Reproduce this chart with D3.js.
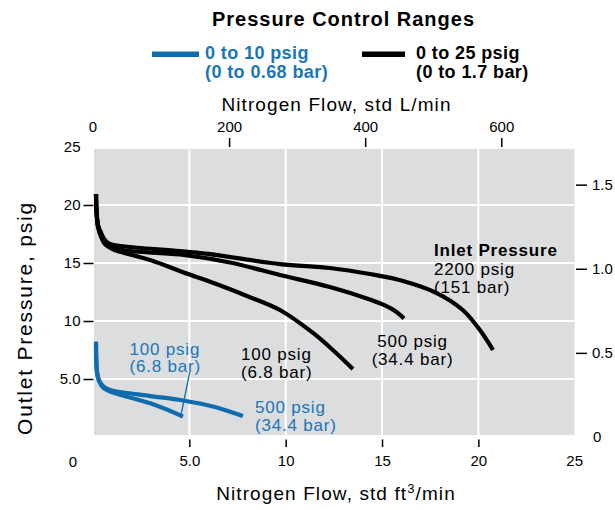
<!DOCTYPE html>
<html><head><meta charset="utf-8">
<script src="https://cdn.jsdelivr.net/npm/d3@7"></script>
<style>
body{margin:0;background:#fff}
svg{display:block;font-family:"Liberation Sans",Arial,Helvetica,sans-serif}
</style>
</head><body>
<svg id="chart" width="615" height="510"></svg>
<script>
// ---- data (flow in std ft3/min, outlet pressure in psig) ----
const black2200 = [[0.156,20.95],[0.18,19.57],[0.26,18.28],[0.42,17.59],[0.62,16.98],[0.88,16.64],[1.66,16.42],[4.51,16.03],[5.97,15.78],[9.70,14.91],[12.30,14.57],[14.37,14.05],[16.09,13.45],[17.84,12.41],[19.19,10.95],[20.08,9.22],[20.76,7.50]];
const black500 = [[0.156,20.95],[0.18,19.57],[0.26,18.19],[0.42,17.41],[0.62,16.81],[0.99,16.38],[1.66,16.08],[4.51,15.73],[7.11,15.04],[9.70,13.97],[12.30,12.93],[14.37,11.85],[15.15,11.34],[15.72,10.82],[16.14,10.22]];
const black100 = [[0.156,20.95],[0.18,19.57],[0.26,18.10],[0.42,17.24],[0.62,16.64],[0.99,16.21],[1.45,15.95],[2.96,15.26],[4.93,14.05],[6.33,13.23],[7.99,12.16],[9.70,10.95],[11.42,8.97],[12.56,7.33],[13.49,5.86]];
const blue500 = [[0.156,8.22],[0.17,6.64],[0.21,5.60],[0.31,4.91],[0.52,4.40],[0.88,4.05],[1.40,3.88],[2.96,3.53],[4.67,3.15],[6.33,2.59],[7.78,1.81]];
const blue100 = [[0.156,8.22],[0.17,6.64],[0.21,5.56],[0.31,4.83],[0.52,4.27],[0.88,3.92],[1.45,3.62],[3.22,2.76],[4.67,1.77]];
const blueLeader = [[5.02,5.6],[4.58,2.0]];

const flowTicks = [5,10,15,20];
const psigTicks = [20,15,10,5];
const lpmTicks = [200,400,600];
const barTicks = [1.5,1.0,0.5];
const psigPerBar = 14.5038;
const lpmPerCfm = 28.3168;

const legendItems = [
  {lines:["0 to 10 psig","(0 to 0.68 bar)"], color:"#0f6dae", text:"#1a76b9"},
  {lines:["0 to 25 psig","(0 to 1.7 bar)"], color:"#000", text:"#000"}
];

const BLUE = "#0f6dae", BLUE_TXT = "#1a76b9";

const svg = d3.select("#chart");
const x = d3.scaleLinear().domain([0,25]).range([93,574.7]);
const y = d3.scaleLinear().domain([0,25]).range([437,147]);
const xL = d3.scaleLinear().domain([0,25*lpmPerCfm]).range(x.range());
const yB = d3.scaleLinear().domain([0,25/psigPerBar]).range(y.range());

// plot background
svg.append("rect").attr("x",94).attr("y",149).attr("width",480.5).attr("height",286).attr("fill","#dcdddf");

// grid
const g = svg.append("g");
flowTicks.forEach(v=>{
  g.append("line").attr("x1",x(v)).attr("x2",x(v)).attr("y1",149).attr("y2",435).attr("stroke","#fff").attr("stroke-width",2);
});
psigTicks.forEach(v=>{
  g.append("line").attr("x1",94).attr("x2",574.5).attr("y1",y(v)).attr("y2",y(v)).attr("stroke","#fff").attr("stroke-width",2);
});

function styleAxis(sel){
  sel.select(".domain").remove();
  sel.selectAll("line").attr("stroke","#000").attr("stroke-width",1.5);
  sel.selectAll("text").attr("font-size",15).attr("fill","#000").attr("font-family",null);
}

// left axis
svg.append("g").attr("transform","translate(93.5,0)")
  .call(d3.axisLeft(y).tickValues(psigTicks).tickSize(10).tickPadding(3).tickFormat(v=>v===5?"5.0":String(v)))
  .call(styleAxis);
svg.append("text").attr("x",80.5).attr("y",y(25)).attr("dy","0.32em").attr("text-anchor","end").attr("font-size",15).text("25");

// bottom axis
svg.append("g").attr("transform","translate(0,439.5)")
  .call(d3.axisBottom(x).tickValues(flowTicks).tickSize(7.5).tickPadding(8).tickFormat(v=>v===5?"5.0":String(v)))
  .call(styleAxis);
svg.append("text").attr("x",x(25)).attr("y",466).attr("text-anchor","middle").attr("font-size",15).text("25");
svg.append("text").attr("x",73).attr("y",466.5).attr("text-anchor","middle").attr("font-size",15).text("0");

// top axis
svg.append("g").attr("transform","translate(0,147)")
  .call(d3.axisTop(xL).tickValues(lpmTicks).tickSize(9).tickPadding(6))
  .call(styleAxis);
svg.append("text").attr("x",xL(0)).attr("y",132).attr("text-anchor","middle").attr("font-size",15).text("0");

// right axis
svg.append("g").attr("transform","translate(576,0)")
  .call(d3.axisRight(yB).tickValues(barTicks).tickSize(11).tickPadding(5).tickFormat(d3.format(".1f")))
  .call(styleAxis);
svg.append("text").attr("x",593).attr("y",yB(0)).attr("dy","0.32em").attr("font-size",15).text("0");

// axis titles
svg.append("text").attr("x",336.5).attr("y",111).attr("text-anchor","middle").attr("font-size",19).attr("letter-spacing",1.1)
  .text("Nitrogen Flow, std L/min");
const bt = svg.append("text").attr("x",336).attr("y",500).attr("text-anchor","middle").attr("font-size",19).attr("letter-spacing",1.1);
bt.append("tspan").text("Nitrogen Flow, std ft");
bt.append("tspan").attr("font-size",13).attr("dy",-7).text("3");
bt.append("tspan").attr("dy",7).text("/min");
svg.append("text").attr("transform","translate(31.5,318) rotate(-90)").attr("text-anchor","middle")
  .attr("font-size",21).attr("letter-spacing",1.8).text("Outlet Pressure, psig");

// title
svg.append("text").attr("x",343.5).attr("y",26).attr("text-anchor","middle").attr("font-size",20).attr("font-weight","bold")
  .attr("letter-spacing",1).text("Pressure Control Ranges");

// legend
const legX = [152, 362];
legendItems.forEach((it,i)=>{
  const lg = svg.append("g").attr("transform",`translate(${legX[i]},0)`);
  lg.append("line").attr("x1",0).attr("x2",i===0?47:43).attr("y1",54.3).attr("y2",54.3).attr("stroke",it.color).attr("stroke-width",5.5);
  it.lines.forEach((t,j)=>{
    lg.append("text").attr("x",i===0?53:54).attr("y",59.3+j*18.3).attr("font-size",18).attr("font-weight","bold")
      .attr("letter-spacing",0.4).attr("fill",it.text).text(t);
  });
});

// curves
const line = d3.line().x(d=>x(d[0])).y(d=>y(d[1])).curve(d3.curveCatmullRom.alpha(0.5));
[black100, black500, black2200].forEach(s=>{
  svg.append("path").attr("d",line(s)).attr("fill","none").attr("stroke","#000").attr("stroke-width",4.2);
});
[blue100, blue500].forEach(s=>{
  svg.append("path").attr("d",line(s)).attr("fill","none").attr("stroke",BLUE).attr("stroke-width",4.2);
});
svg.append("path").attr("d",d3.line().x(d=>x(d[0])).y(d=>y(d[1]))(blueLeader)).attr("stroke",BLUE).attr("stroke-width",1.3).attr("fill","none");

// annotations
function label(xp, yp, lines, opts={}){
  const t = svg.append("g");
  lines.forEach((s,j)=>{
    t.append("text").attr("x",xp).attr("y",yp+j*(opts.lh||18))
      .attr("font-size",17).attr("letter-spacing",0.8)
      .attr("font-weight",(opts.bold&&j===0)?"bold":"normal")
      .attr("text-anchor",opts.anchor||"start")
      .attr("fill",opts.color||"#000").text(s);
  });
}
label(434, 256, ["Inlet Pressure","2200 psig","(151 bar)"], {bold:true, lh:18.5});
label(412.5, 347, ["500 psig","(34.4 bar)"], {anchor:"middle"});
label(241, 360, ["100 psig","(6.8 bar)"]);
label(129.5, 355, ["100 psig","(6.8 bar)"], {color:BLUE_TXT, lh:17.2});
label(255, 413.3, ["500 psig","(34.4 bar)"], {color:BLUE_TXT});
</script>
</body></html>
